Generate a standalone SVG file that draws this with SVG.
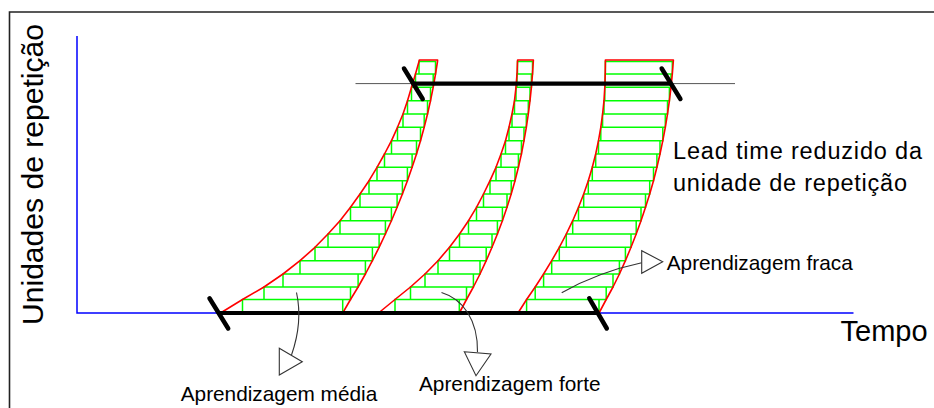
<svg xmlns="http://www.w3.org/2000/svg" width="934" height="408" viewBox="0 0 934 408">
<style>
  text { font-family: "Liberation Sans", Arial, sans-serif; fill: #000; }
  .grn { fill: none; stroke: #00ff00; stroke-width: 1.5; }
  .red { fill: none; stroke: #ff0000; stroke-width: 1.6; stroke-linejoin: round; }
  .blk { stroke: #000; stroke-width: 4.2; fill: none; }
  .slash { stroke: #000; stroke-width: 4.5; stroke-linecap: round; }
  .axis { stroke: #0000ff; stroke-width: 1.5; fill: none; }
  .call { stroke: #333; stroke-width: 1.1; fill: none; }
  .tri { stroke: #333; stroke-width: 1.1; fill: #fff; }
  .lbl { font-size: 20.8px; }
</style>
<rect width="934" height="408" fill="#fff"/>
<path d="M9.5,420 V12 H940" fill="none" stroke="#222" stroke-width="1.6"/>

<g id="axes">
  <path class="axis" d="M77,36 V313 H853.5"/>
  <text transform="translate(43,325) rotate(-90)" font-size="29" textLength="301" lengthAdjust="spacingAndGlyphs">Unidades de repetição</text>
  <text x="840.5" y="340.5" font-size="29">Tempo</text>
</g>

<line x1="355.5" y1="83.6" x2="735" y2="83.6" stroke="#555" stroke-width="1"/>

<g id="band-media">
  <path class="grn" d="M242.5,299.5H342.7V313H242.5Z M264,287H350.5V299.5H264Z M283,274H358.1V287H283Z M300,260.7H365.4V274H300Z M315,247.3H372.4V260.7H315Z M328,234H379.1V247.3H328Z M340,220.7H385.4V234H340Z M350.5,207.3H391.4V220.7H350.5Z M360,194H397.1V207.3H360Z M369,180.7H402.4V194H369Z M377,167.3H407.4V180.7H377Z M384.5,154H412.1V167.3H384.5Z M391.5,140.7H416.5V154H391.5Z M397.5,127.3H420.5V140.7H397.5Z M403,114H424.2V127.3H403Z M407.5,100.7H427.5V114H407.5Z M411.5,87.3H430.5V100.7H411.5Z M415.5,74H433.2V87.3H415.5Z M419,61.5H435.5V74H419Z"/>
  <path class="red" d="M220.5,313 L242.5,299.5 L264,287 L283,274 L300,260.7 L315,247.3 L328,234 L340,220.7 L350.5,207.3 L360,194 L369,180.7 L377,167.3 L384.5,154 L391.5,140.7 L397.5,127.3 L403,114 L407.5,100.7 L411.5,87.3 L415.5,74 L419,61.5 L419.3,60 H437.6 L437.5,61.5 L435.5,74 L433.2,87.3 L430.5,100.7 L427.5,114 L424.2,127.3 L420.5,140.7 L416.5,154 L412.1,167.3 L407.4,180.7 L402.4,194 L397.1,207.3 L391.4,220.7 L385.4,234 L379.1,247.3 L372.4,260.7 L365.4,274 L358.1,287 L350.5,299.5 L342.7,313"/>
</g>

<g id="band-forte">
  <path class="grn" d="M395,299.5H459.3V313H395Z M410.5,287H466.5V299.5H410.5Z M425,274H473.4V287H425Z M438,260.7H480V274H438Z M449.5,247.3H486.2V260.7H449.5Z M459.5,234H492V247.3H459.5Z M468.5,220.7H497.4V234H468.5Z M476.5,207.3H502.4V220.7H476.5Z M483.5,194H507V207.3H483.5Z M490,180.7H511.2V194H490Z M496,167.3H515V180.7H496Z M501,154H518.4V167.3H501Z M505.5,140.7H521.4V154H505.5Z M509,127.3H524V140.7H509Z M512,114H526.3V127.3H512Z M514.5,100.7H528.3V114H514.5Z M516,87.3H530V100.7H516Z M517,74H531.4V87.3H517Z M517.5,61.5H532.5V74H517.5Z"/>
  <path class="red" d="M378.5,313 L395,299.5 L410.5,287 L425,274 L438,260.7 L449.5,247.3 L459.5,234 L468.5,220.7 L476.5,207.3 L483.5,194 L490,180.7 L496,167.3 L501,154 L505.5,140.7 L509,127.3 L512,114 L514.5,100.7 L516,87.3 L517,74 L517.5,61.5 L517.6,60 H533.4 L533.3,61.5 L532.5,74 L531.4,87.3 L530,100.7 L528.3,114 L526.3,127.3 L524,140.7 L521.4,154 L518.4,167.3 L515,180.7 L511.2,194 L507,207.3 L502.4,220.7 L497.4,234 L492,247.3 L486.2,260.7 L480,274 L473.4,287 L466.5,299.5 L459.3,313"/>
</g>

<g id="band-fraca">
  <path class="grn" d="M526.6,299.5H599V313H526.6Z M535.2,287H606.2V299.5H535.2Z M543.6,274H613V287H543.6Z M551.7,260.7H619.4V274H551.7Z M559.3,247.3H625.4V260.7H559.3Z M566.3,234H631V247.3H566.3Z M572.7,220.7H636.2V234H572.7Z M578.5,207.3H641V220.7H578.5Z M583.7,194H645.5V207.3H583.7Z M588.3,180.7H649.7V194H588.3Z M592.3,167.3H653.5V180.7H592.3Z M595.7,154H656.9V167.3H595.7Z M598.5,140.7H660V154H598.5Z M600.8,127.3H662.8V140.7H600.8Z M602.6,114H665.3V127.3H602.6Z M604,100.7H667.5V114H604Z M604.8,87.3H669.4V100.7H604.8Z M605.2,74H671V87.3H605.2Z M605.4,61.5H672.3V74H605.4Z"/>
  <path class="red" d="M518,313 L526.6,299.5 L535.2,287 L543.6,274 L551.7,260.7 L559.3,247.3 L566.3,234 L572.7,220.7 L578.5,207.3 L583.7,194 L588.3,180.7 L592.3,167.3 L595.7,154 L598.5,140.7 L600.8,127.3 L602.6,114 L604,100.7 L604.8,87.3 L605.2,74 L605.4,61.5 L605.4,60 H673.4 L673.3,61.5 L672.3,74 L671,87.3 L669.4,100.7 L667.5,114 L665.3,127.3 L662.8,140.7 L660,154 L656.9,167.3 L653.5,180.7 L649.7,194 L645.5,207.3 L641,220.7 L636.2,234 L631,247.3 L625.4,260.7 L619.4,274 L613,287 L606.2,299.5 L599,313"/>
</g>

<g id="lead-time">
  <line class="blk" x1="413.3" y1="83.7" x2="671" y2="83.7"/>
  <line class="blk" x1="218.8" y1="313" x2="598" y2="313"/>
  <line class="slash" x1="404" y1="68.5" x2="422.7" y2="99"/>
  <line class="slash" x1="661.7" y1="68.5" x2="680.4" y2="99"/>
  <line class="slash" x1="209.5" y1="298.3" x2="228.2" y2="328.5"/>
  <line class="slash" x1="589.3" y1="298.3" x2="606.8" y2="328.5"/>
  <text x="673" y="159.3" font-size="23.5" textLength="249" lengthAdjust="spacing">Lead time reduzido da</text>
  <text x="673" y="191" font-size="23.5" textLength="234" lengthAdjust="spacing">unidade de repetição</text>
</g>

<g id="connectors">
  <path class="call" d="M296.5,292.5 Q303,322 291.5,355"/>
  <polygon class="tri" points="279.3,348.3 279.3,375 302.3,361.7"/>
  <path class="call" d="M441.5,292.5 C463,299 478,320 477.5,352"/>
  <polygon class="tri" points="464.3,351.7 491,354 476,375.7"/>
  <path class="call" d="M561.7,292.7 Q598,272 641.7,262.7"/>
  <polygon class="tri" points="641.7,250.7 641.7,273.3 662.7,261.7"/>
</g>

<g id="labels">
  <text class="lbl" x="180.7" y="400.7">Aprendizagem média</text>
  <text class="lbl" x="419" y="390.7">Aprendizagem forte</text>
  <text class="lbl" x="666.7" y="270">Aprendizagem fraca</text>
</g>
</svg>
